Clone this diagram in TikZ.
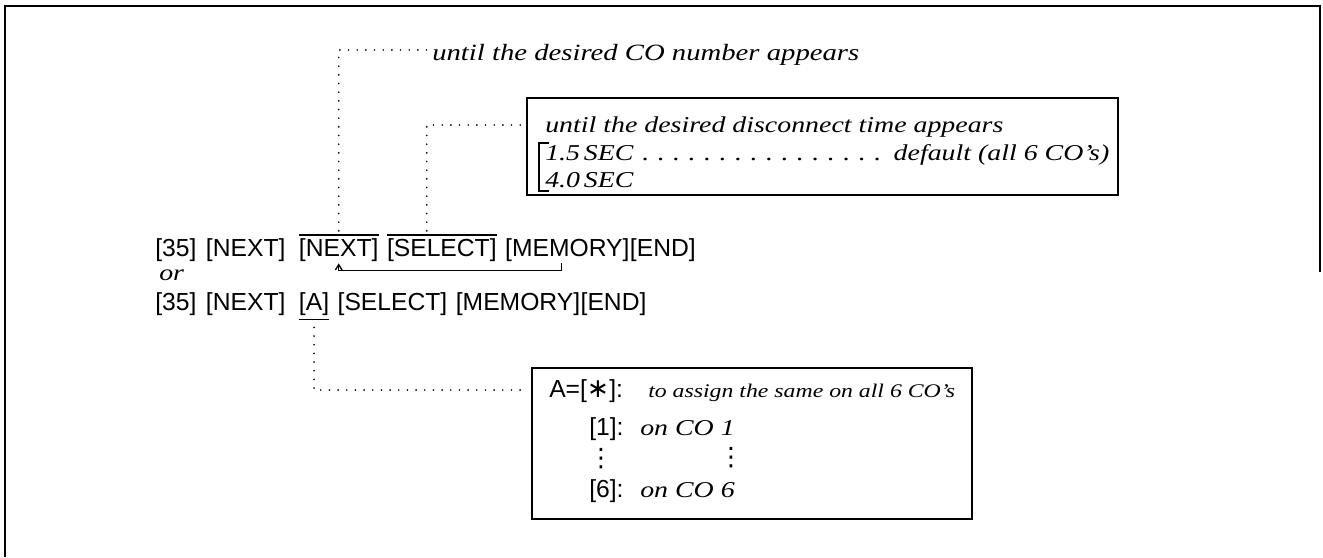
\documentclass[tikz,border=0pt]{standalone}
\usepackage{fontspec}
\setmainfont{Liberation Sans}
\newfontfamily\itf[FakeStretch=1.23]{Liberation Serif}
\newfontfamily\symf{DejaVu Sans}
\usetikzlibrary{calc,arrows.meta}
\tikzset{
  frame/.style={line width=1.5pt},
  tok/.style={inner sep=0pt, anchor=base west, font=\fontsize{18.5}{20}\selectfont},
  ital/.style={inner sep=0pt, anchor=base west, font=\itf\itshape\fontsize{17}{20}\selectfont},
  dots/.style={line width=1.4pt, line cap=round, dash pattern=on 0pt off 6.5pt},
  boxline/.style={line width=1.3pt},
  vdot/.style={inner sep=0pt, anchor=center, font=\symf\fontsize{19}{19}\selectfont},
}
\begin{document}
\begin{tikzpicture}[x=0.75pt,y=-0.75pt]
\useasboundingbox (0,0) rectangle (1323,557);
% outer frame (cropped)
\draw[frame] (5,557) -- (5,6) -- (1320,6) -- (1320,272);

% line 1
\node[tok] (a35) at (155,256) {[35]};
\node[tok] (an1) at ($(a35.base east)+(9,0)$) {[NEXT]};
\node[tok] (an2) at ($(an1.base east)+(13,0)$) {[NEXT]};
\node[tok] (asel) at ($(an2.base east)+(8,0)$) {[SELECT]};
\node[tok] (amem) at ($(asel.base east)+(8,0)$) {[MEMORY]};
\node[tok] (aend) at (amem.base east) {[END]};
% overlines
\draw[line width=1pt] ($(an2.north west)+(0,-3)$) -- ($(an2.north east)+(0,-3)$);
\draw[line width=1pt] ($(asel.north west)+(0,-3)$) -- ($(asel.north east)+(0,-3)$);
% return arrow
\coordinate (r1) at ($(amem.south)+(-6,2)$);
\coordinate (r2) at ($(an2.south)+(0,2)$);
\draw[line width=1pt, -{Straight Barb[length=4pt,width=5pt]}] (r1) -- ++(0,7) -| (r2);

% or
\node[ital] (or) at (159,280) {or};

% line 2
\node[tok] (b35) at (155,310) {[35]};
\node[tok] (bn1) at ($(b35.base east)+(9,0)$) {[NEXT]};
\node[tok] (ba) at ($(bn1.base east)+(13,0)$) {[A]};
\node[tok] (bsel) at ($(ba.base east)+(8,0)$) {[SELECT]};
\node[tok] (bmem) at ($(bsel.base east)+(8,0)$) {[MEMORY]};
\node[tok] (bend) at (bmem.base east) {[END]};
\draw[line width=1pt] ($(ba.south west)+(0,4)$) -- ($(ba.south east)+(0,4)$);

% CO number label
\node[ital, font=\itf\itshape\fontsize{17.5}{20}\selectfont] (conum) at (432,60) {until the desired CO number appears};
\coordinate (c1) at ($(an2.north)+(0,-7)$);
\draw[dots] (c1) -- (c1 |- 0,50) -- (428,50);

% box 1
\draw[boxline] (527,98) rectangle (1118,195);
\node[ital] (t1) at (545,132) {until the desired disconnect time appears};
\node[ital] (t2) at (545,160) {\hbox to 423pt{1.5\,SEC\leaders\hbox to 11.6pt{\hss.\hss}\hfill\ default (all 6 CO’s)}};
\node[ital] (t3) at (545,187) {4.0\,SEC};
\draw[line width=1pt] (549,143) -- (539,143) -- (539,191) -- (549,191);
\coordinate (s1) at ($(asel.north west)+(40,-7)$);
\draw[dots] (s1) -- (s1 |- 0,125) -- (524,125);

% line 2 connector
\coordinate (u1) at ($(ba.south)+(0,12)$);
\draw[dots] (u1) -- (u1 |- 0,390) -- (528,390);

% box 2
\draw[boxline] (532,368) rectangle (972,519);
\node[tok] (k1) at (549,397) {A=[{\symf\fontsize{20}{20}\selectfont ∗}]:};
\node[ital, font=\itf\itshape\fontsize{14.5}{20}\selectfont] (k1t) at (648,397) {to assign the same on all 6 CO’s};
\node[tok] (k2) at (589,435) {[1]:};
\node[ital] (k2t) at (640,435) {on CO 1};
\node[tok] (k3) at (589,497) {[6]:};
\node[ital] (k3t) at (640,497) {on CO 6};
\node[vdot] (v1) at (601,459) {⋮};
\node[vdot] (v2) at (731,458) {⋮};
\end{tikzpicture}
\end{document}
